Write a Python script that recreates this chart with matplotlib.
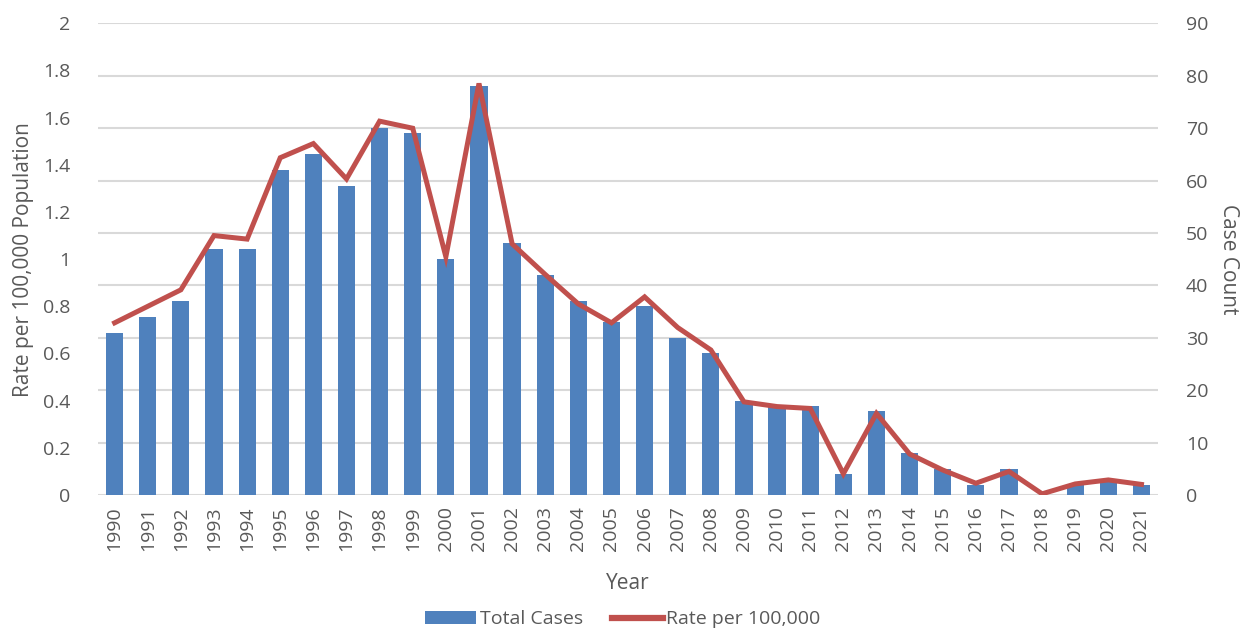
import matplotlib.pyplot as plt
from matplotlib.patches import Patch
from matplotlib.lines import Line2D

# yearly case counts and rate per 100,000
years = list(range(1990, 2022))
total_cases = [31, 34, 37, 47, 47, 62, 65, 59, 70, 69, 45, 78, 48, 42, 37, 33,
               36, 30, 27, 18, 17, 17, 4, 16, 8, 5, 2, 5, 0, 2, 3, 2]
rate = [0.73, 0.80, 0.87, 1.10, 1.085, 1.43, 1.49, 1.34, 1.585, 1.555, 1.01, 1.745,
        1.065, 0.935, 0.81, 0.73, 0.84, 0.71, 0.615, 0.395, 0.375, 0.367, 0.09, 0.346,
        0.174, 0.106, 0.05, 0.10, 0.005, 0.047, 0.064, 0.045]

bar_color = '#4f81bd'
line_color = '#c0504d'
text_color = '#595959'
grid_color = '#d9d9d9'

plt.rcParams['font.family'] = ['Open Sans', 'DejaVu Sans']

fig = plt.figure(figsize=(12.46, 6.29), dpi=100)
ax = fig.add_axes([0.0787, 0.213, 0.8507, 0.750])
ax2 = ax.twinx()

# bars on the count axis, kept underneath the rate line
ax2.bar(years, total_cases, width=0.52, color=bar_color, zorder=2)
ax2.set_ylim(0, 90)
ax2.set_yticks(range(0, 91, 10))
ax2.yaxis.grid(True, color=grid_color, linewidth=1.5, zorder=0)
ax2.set_axisbelow(True)

ax.plot(years, rate, color=line_color, linewidth=3.6, solid_joinstyle='miter', zorder=3)
ax.set_ylim(0, 2)
ax.set_yticks([i / 10 for i in range(0, 21, 2)])
ax.set_yticklabels(['0', '0.2', '0.4', '0.6', '0.8', '1', '1.2', '1.4', '1.6', '1.8', '2'])
ax.set_xlim(years[0] - 0.5, years[-1] + 0.5)
ax.set_xticks(years)
ax.set_xticklabels([str(y) for y in years], rotation=90)

ax.set_zorder(ax2.get_zorder() + 1)
ax.patch.set_visible(False)

for a in (ax, ax2):
    for s in a.spines.values():
        s.set_visible(False)
    a.tick_params(length=0, colors=text_color, labelsize=14)
ax.tick_params(axis='y', pad=20)
ax2.tick_params(axis='y', pad=20)
ax.tick_params(axis='x', pad=8)

ax.set_ylabel('Rate per 100,000 Population', color=text_color, fontsize=15, labelpad=6)
ax2.set_ylabel('Case Count', color=text_color, fontsize=15, rotation=270, labelpad=22)
ax.set_xlabel('Year', color=text_color, fontsize=15, labelpad=16)

handles = [Patch(facecolor=bar_color, label='Total Cases'),
           Line2D([0], [0], color=line_color, linewidth=4.5, label='Rate per 100,000')]
fig.legend(handles=handles, loc='lower center', bbox_to_anchor=(0.5, -0.027), ncol=2,
           frameon=False, fontsize=14, labelcolor=text_color, handlelength=2.6,
           handletextpad=0.2, columnspacing=1.5)

fig.savefig('out.png', dpi=100)
